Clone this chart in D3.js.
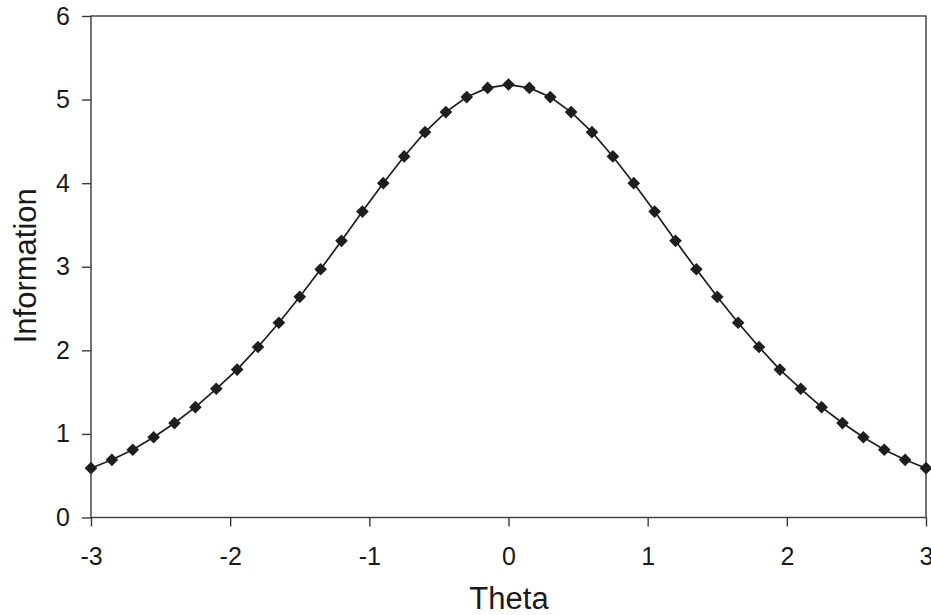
<!DOCTYPE html>
<html>
<head>
<meta charset="utf-8">
<script src="https://cdn.jsdelivr.net/npm/d3@7"></script>
<style>
  html, body { margin: 0; padding: 0; background: #fff; }
  svg { display: block; }
  text { font-family: "Liberation Sans", Arial, sans-serif; fill: #1a1a1a; }
</style>
</head>
<body>
<svg id="chart" width="931" height="615"></svg>
<script>
const theta = [-3, -2.85, -2.7, -2.55, -2.4, -2.25, -2.1, -1.95, -1.8, -1.65, -1.5, -1.35, -1.2, -1.05, -0.9, -0.75, -0.6, -0.45, -0.3, -0.15,
  0, 0.15, 0.3, 0.45, 0.6, 0.75, 0.9, 1.05, 1.2, 1.35, 1.5, 1.65, 1.8, 1.95, 2.1, 2.25, 2.4, 2.55, 2.7, 2.85, 3];
const information = [0.59, 0.69, 0.81, 0.96, 1.13, 1.32, 1.54, 1.77, 2.04, 2.33, 2.64, 2.97, 3.31, 3.66, 4.00, 4.32, 4.61, 4.85, 5.03, 5.14,
  5.18, 5.14, 5.03, 4.85, 4.61, 4.32, 4.00, 3.66, 3.31, 2.97, 2.64, 2.33, 2.04, 1.77, 1.54, 1.32, 1.13, 0.96, 0.81, 0.69, 0.59];
const xTicks = [-3, -2, -1, 0, 1, 2, 3];
const xTickLabels = ["-3", "-2", "-1", "0", "1", "2", "3"];
const yTicks = [0, 1, 2, 3, 4, 5, 6];
const yTickLabels = ["0", "1", "2", "3", "4", "5", "6"];
const xTitle = "Theta";
const yTitle = "Information";

(function () {
const svg = d3.select("#chart");
const pL = 91, pR = 926, pT = 16, pB = 517.5;
const x = d3.scaleLinear().domain([-3, 3]).range([pL, pR]);
const y = d3.scaleLinear().domain([0, 6]).range([pB, pT]);

const axisColor = "#3a3a3a";
const fontFam = "'Liberation Sans', Arial, sans-serif";

// frame
svg.append("rect")
  .attr("x", pL).attr("y", pT)
  .attr("width", pR - pL).attr("height", pB - pT)
  .attr("fill", "none").attr("stroke", axisColor).attr("stroke-width", 1.4);

// x axis
const xAxis = d3.axisBottom(x).tickValues(xTicks).tickSize(9).tickPadding(21)
  .tickFormat((d, i) => xTickLabels[i]);
const gx = svg.append("g").attr("transform", `translate(0,${pB})`).call(xAxis);
gx.select(".domain").remove();
gx.selectAll(".tick line").attr("stroke", axisColor).attr("stroke-width", 1.4);
gx.selectAll(".tick text").attr("font-size", 25).attr("fill", "#1a1a1a")
  .attr("font-family", fontFam);

// y axis
const yAxis = d3.axisLeft(y).tickValues(yTicks).tickSize(9).tickPadding(12)
  .tickFormat((d, i) => yTickLabels[i]);
const gy = svg.append("g").attr("transform", `translate(${pL},0)`).call(yAxis);
gy.select(".domain").remove();
gy.selectAll(".tick line").attr("stroke", axisColor).attr("stroke-width", 1.4);
gy.selectAll(".tick text").attr("font-size", 25).attr("fill", "#1a1a1a")
  .attr("font-family", fontFam);

// line
const pts = theta.map((t, i) => [t, information[i]]);
svg.append("path")
  .datum(pts)
  .attr("fill", "none")
  .attr("stroke", "#1e1e1e")
  .attr("stroke-width", 1.7)
  .attr("d", d3.line().x(d => x(d[0])).y(d => y(d[1])));

// markers (diamonds)
const sym = d3.symbol().type(d3.symbolSquare).size(80);
svg.append("g").selectAll("path")
  .data(pts)
  .join("path")
  .attr("d", sym)
  .attr("transform", d => `translate(${x(d[0])},${y(d[1])}) rotate(45)`)
  .attr("fill", "#1e1e1e");

// titles
svg.append("text")
  .attr("x", (pL + pR) / 2 + 0.5)
  .attr("y", 609)
  .attr("text-anchor", "middle")
  .attr("font-size", 31)
  .text(xTitle);

svg.append("text")
  .attr("transform", `translate(36,${(pT + pB) / 2 - 1}) rotate(-90)`)
  .attr("text-anchor", "middle")
  .attr("font-size", 31)
  .text(yTitle);
})();
</script>
</body>
</html>
